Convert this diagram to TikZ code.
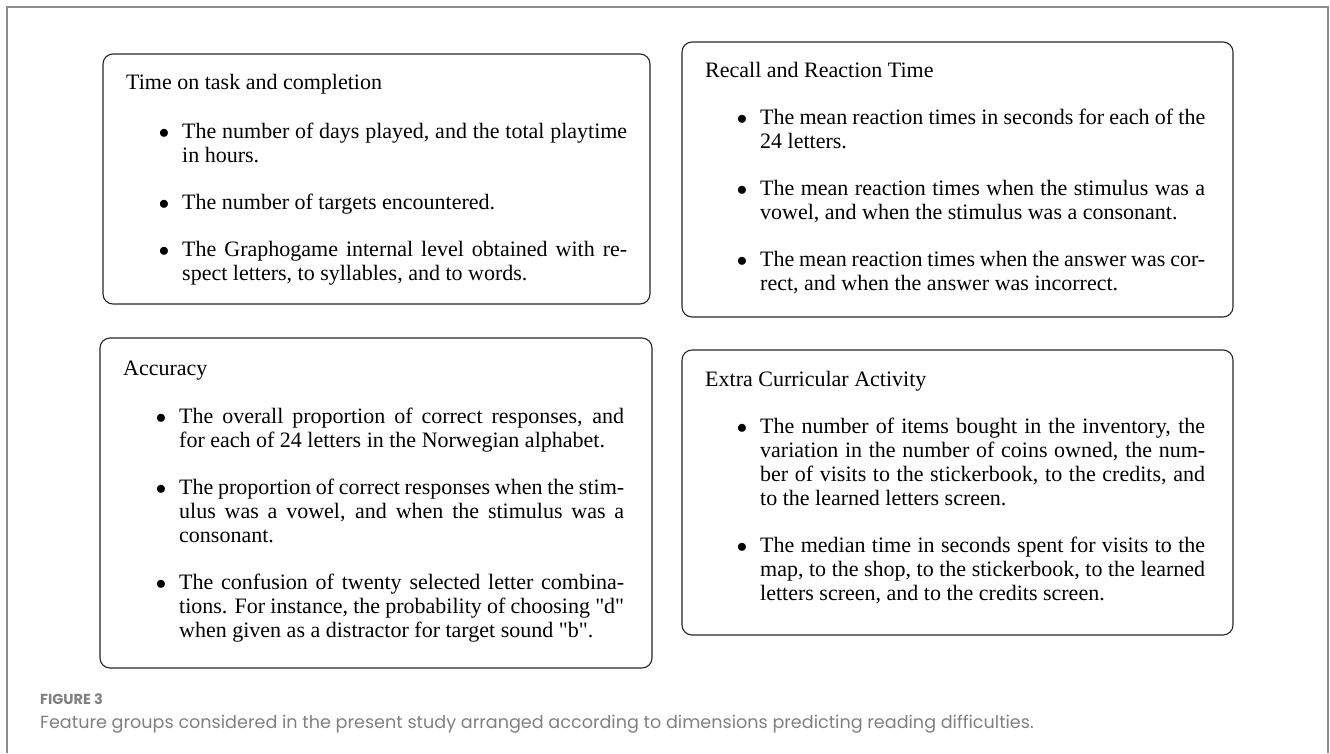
\documentclass[tikz,border=0pt]{standalone}
\usepackage{fontspec}
\setmainfont{Liberation Serif}
\newfontfamily\quotefont{Liberation Serif}
\newfontfamily\capfont{Poppins}
\newcommand{\straightquote}{{\quotefont"}}
\definecolor{framegray}{RGB}{140,140,140}
\definecolor{capgray}{RGB}{128,128,128}
\tikzset{
  featbox/.style={draw=black!85, line width=1.1pt, rounded corners=10pt},
  boxtitle/.style={anchor=base west, inner sep=0pt, font=\fontsize{22}{24}\selectfont},
  featitem/.style={anchor=base west, inner sep=0pt, text width=445pt, align=justify,
    font=\fontsize{22}{24}\selectfont},
  itemdot/.style={anchor=base, inner sep=0pt, font=\fontsize{22}{24}\selectfont}
}
\begin{document}
\begin{tikzpicture}[x=1pt,y=-1pt]
\useasboundingbox (0,0) rectangle (1330,753);
\draw[framegray, line width=1.6pt] (7,753) -- (7,7) -- (1328,7) -- (1328,753);

% time on task
\draw[featbox] (103,54) rectangle (650,304);
\node[boxtitle] (timetitle) at (126,89) {Time on task and completion};
\node[itemdot] (timedot1) at (164,138) {$\bullet$};
\node[featitem] (timeitem1) at (182,138) {The number of days played, and the total playtime\linebreak in hours.};
\node[itemdot] (timedot2) at (164,209) {$\bullet$};
\node[featitem] (timeitem2) at (182,209) {The number of targets encountered.};
\node[itemdot] (timedot3) at (164,256) {$\bullet$};
\node[featitem] (timeitem3) at (182,256) {The Graphogame internal level obtained with re-\linebreak spect letters, to syllables, and to words.};

% recall
\draw[featbox] (682,42) rectangle (1233,317);
\node[boxtitle] (recalltitle) at (705,77) {Recall and Reaction Time};
\node[itemdot] (recalldot1) at (742,124) {$\bullet$};
\node[featitem] (recallitem1) at (760,124) {The mean reaction times in seconds for each of the\linebreak 24 letters.};
\node[itemdot] (recalldot2) at (742,195) {$\bullet$};
\node[featitem] (recallitem2) at (760,195) {The mean reaction times when the stimulus was a\linebreak vowel, and when the stimulus was a consonant.};
\node[itemdot] (recalldot3) at (742,266) {$\bullet$};
\node[featitem] (recallitem3) at (760,266) {The mean reaction times when the answer was cor-\linebreak rect, and when the answer was incorrect.};

% accuracy
\draw[featbox] (100,338) rectangle (652,668);
\node[boxtitle] (acctitle) at (123,375) {Accuracy};
\node[itemdot] (accdot1) at (161,423) {$\bullet$};
\node[featitem] (accitem1) at (179,423) {The overall proportion of correct responses, and\linebreak for each of 24 letters in the Norwegian alphabet.};
\node[itemdot] (accdot2) at (161,494) {$\bullet$};
\node[featitem] (accitem2) at (179,494) {The proportion of correct responses when the stim-\linebreak ulus was a vowel, and when the stimulus was a\linebreak consonant.};
\node[itemdot] (accdot3) at (161,589) {$\bullet$};
\node[featitem] (accitem3) at (179,589) {The confusion of twenty selected letter combina-\linebreak tions. For instance, the probability of choosing \straightquote d\straightquote\linebreak when given as a distractor for target sound \straightquote b\straightquote.};

% extra curricular
\draw[featbox] (682,350) rectangle (1233,635);
\node[boxtitle] (extratitle) at (705,386) {Extra Curricular Activity};
\node[itemdot] (extradot1) at (742,433) {$\bullet$};
\node[featitem] (extraitem1) at (760,433) {The number of items bought in the inventory, the\linebreak variation in the number of coins owned, the num-\linebreak ber of visits to the stickerbook, to the credits, and\linebreak to the learned letters screen.};
\node[itemdot] (extradot2) at (742,552) {$\bullet$};
\node[featitem] (extraitem2) at (760,552) {The median time in seconds spent for visits to the\linebreak map, to the shop, to the stickerbook, to the learned\linebreak letters screen, and to the credits screen.};

% caption
\node[anchor=base west, inner sep=0pt, text=capgray, font=\capfont\bfseries\fontsize{14.5}{18}\selectfont] (figlabel) at (40,704) {FIGURE 3};
\node[anchor=base west, inner sep=0pt, text=capgray, font=\capfont\fontsize{17.6}{20}\selectfont] (figcaption) at (40,728) {Feature groups considered in the present study arranged according to dimensions predicting reading difficulties.};
\end{tikzpicture}
\end{document}
